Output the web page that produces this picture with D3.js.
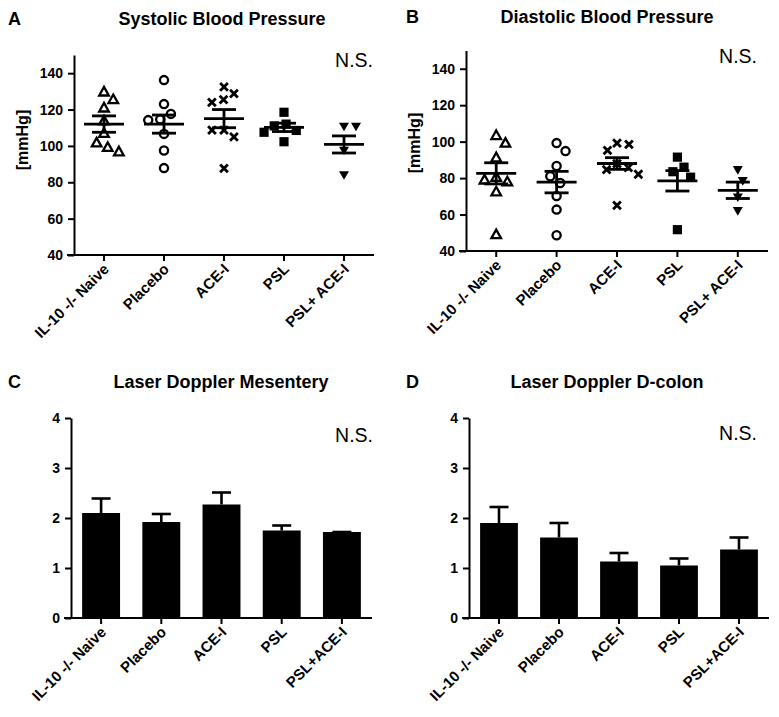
<!DOCTYPE html>
<html><head><meta charset="utf-8">
<script src="https://cdn.jsdelivr.net/npm/d3@7"></script>
<style>body{margin:0;background:#fff}svg{display:block}</style>
</head><body><svg id="c" width="779" height="717"></svg>
<script>
// ---------------- DATA ----------------
const groupsBP = ["IL-10 -/- Naive", "Placebo", "ACE-I", "PSL", "PSL+ ACE-I"];
const groupsLD = ["IL-10 -/- Naive", "Placebo", "ACE-I", "PSL", "PSL+ACE-I"];
const markerTypes = ["triangle", "circle", "cross", "square", "triangleDown"];

const sysValues = [
  [129.7, 125.5, 120.9, 113.8, 106.9, 101.7, 96.8, 99.2],
  [136.2, 123.0, 117.6, 114.6, 114.2, 106.6, 97.5, 87.8],
  [132.5, 128.8, 125.5, 123.9, 108.7, 108.7, 105.0, 87.6],
  [118.5, 112.0, 111.0, 108.5, 107.5, 102.3],
  [110.7, 110.7, 97.5, 84.0]
];
const sysMean = [112.0, 112.0, 115.0, 110.2, 100.8];
const sysSem = [4.5, 5.0, 5.0, 2.3, 4.7];

const diaValues = [
  [103.4, 99.2, 91.2, 80.5, 79.0, 78.0, 72.5, 49.0],
  [99.2, 94.8, 86.6, 81.0, 77.3, 70.2, 62.7, 48.6],
  [99.2, 98.5, 95.2, 87.9, 85.7, 84.6, 82.1, 65.0],
  [91.5, 86.0, 83.5, 80.5, 51.7],
  [84.5, 78.5, 69.5, 62.0]
];
const diaMean = [82.6, 77.8, 88.0, 78.5, 73.3];
const diaSem = [5.8, 5.9, 3.2, 5.6, 4.5];

const mesMean = [2.10, 1.92, 2.27, 1.75, 1.72];
const mesSem = [0.29, 0.16, 0.24, 0.10, 0.0];
const colMean = [1.90, 1.61, 1.13, 1.05, 1.37];
const colSem = [0.32, 0.29, 0.17, 0.14, 0.24];

const bpTicks = [40, 60, 80, 100, 120, 140];
const ldTicks = [0, 1, 2, 3, 4];

// ---------------- RENDER ----------------
const FONT = "Arial, 'Liberation Sans', Helvetica, sans-serif";
const svg = d3.select("#c").style("font-family", FONT);

function markerPath(type) {
  const p = d3.path();
  if (type === "triangle") { p.moveTo(0, -5); p.lineTo(4.8, 3.6); p.lineTo(-4.8, 3.6); p.closePath(); }
  else if (type === "triangleDown") { p.moveTo(-5, -3.8); p.lineTo(5, -3.8); p.lineTo(0, 4.8); p.closePath(); }
  else if (type === "square") { p.rect(-4.6, -4.6, 9.2, 9.2); }
  else if (type === "cross") { p.moveTo(-3.9, -3.9); p.lineTo(3.9, 3.9); p.moveTo(3.9, -3.9); p.lineTo(-3.9, 3.9); }
  else if (type === "circle") { p.arc(0, 0, 4.1, 0, 2 * Math.PI); }
  return p.toString();
}
function markerStyle(sel, type) {
  if (type === "square" || type === "triangleDown") sel.attr("fill", "#000").attr("stroke", "none");
  else sel.attr("fill", "none").attr("stroke", "#000").attr("stroke-width", type === "cross" ? 2.8 : 2.3);
}

// compact beeswarm: each point placed at the free x closest to the centre
function swarm(values, y, D) {
  const order = values.map((v, i) => i).sort((a, b) => values[b] - values[a]);
  const placed = [];
  const off = new Array(values.length).fill(0);
  let side = 1;
  order.forEach(i => {
    const py = y(values[i]);
    const iv = [];
    placed.forEach(p => {
      const dy = Math.abs(p.y - py);
      if (dy < D) { const w = Math.sqrt(D * D - dy * dy); iv.push([p.x - w, p.x + w]); }
    });
    const cands = [0];
    iv.forEach(([a, b]) => { cands.push(a, b); });
    const ok = cands.filter(c => iv.every(([a, b]) => c <= a + 1e-6 || c >= b - 1e-6));
    ok.sort((a, b) => Math.abs(a) - Math.abs(b) || (side > 0 ? b - a : a - b));
    const c = ok[0];
    if (c !== 0) side = -side;
    off[i] = c;
    placed.push({ x: c, y: py });
  });
  return off;
}

function panelFrame(cfg) {
  const g = svg.append("g");
  const y = d3.scaleLinear().domain(cfg.yDomain).range([cfg.yBot, cfg.yTop]);
  const x = d3.scaleBand().domain(cfg.groups).range([cfg.x0, cfg.x1]).paddingInner(cfg.pad || 0).paddingOuter((cfg.pad || 0) / 2);
  // y axis
  const ya = g.append("g").attr("transform", `translate(${cfg.x0},0)`)
    .call(d3.axisLeft(y).tickValues(cfg.ticks).tickFormat(d3.format("d")).tickSize(6).tickSizeOuter(0).tickPadding(5));
  ya.select(".domain").attr("stroke-width", 2);
  ya.selectAll(".tick line").attr("stroke-width", 2);
  ya.selectAll(".tick text").attr("font-size", 14).attr("font-weight", "bold").attr("font-family", FONT).attr("fill", "#000");
  // x axis
  const xa = g.append("g").attr("transform", `translate(0,${cfg.yBot})`)
    .call(d3.axisBottom(x).tickSize(6).tickSizeOuter(0));
  xa.select(".domain").attr("stroke-width", 2).attr("d", `M${cfg.x0 - 7},0H${cfg.x1}`);
  xa.selectAll(".tick line").attr("stroke-width", 2);
  xa.selectAll(".tick text")
    .attr("font-size", 15).attr("font-weight", "bold").attr("font-family", FONT).attr("fill", "#000")
    .attr("text-anchor", "end").attr("dy", null).attr("y", null)
    .attr("transform", "translate(6,15) rotate(-45)");
  // texts
  g.append("text").attr("x", cfg.letterX).attr("y", cfg.titleY).text(cfg.letter)
    .attr("font-size", 18).attr("font-weight", "bold");
  g.append("text").attr("x", cfg.titleX).attr("y", cfg.titleY).attr("text-anchor", "middle").text(cfg.title)
    .attr("font-size", 18).attr("font-weight", "bold");
  g.append("text").attr("x", cfg.nsX).attr("y", cfg.nsY).attr("text-anchor", "end").text("N.S.")
    .attr("font-size", 19.5);
  if (cfg.yLabel) {
    g.append("text").attr("transform", `translate(${cfg.yLabelX},${cfg.yLabelY}) rotate(-90)`)
      .attr("text-anchor", "middle").text(cfg.yLabel).attr("font-size", 16).attr("font-weight", "bold");
  }
  return { g, x, y };
}

function scatterPanel(cfg, values, means, sems) {
  const { g, x, y } = panelFrame(cfg);
  cfg.groups.forEach((grp, i) => {
    const cx = x(grp) + x.bandwidth() / 2;
    const offs = swarm(values[i], y, 12);
    const type = markerTypes[i];
    values[i].forEach((v, j) => {
      g.append("path").attr("d", markerPath(type))
        .attr("transform", `translate(${cx + offs[j]},${y(v)})`)
        .call(markerStyle, type);
    });
    const m = means[i], s = sems[i];
    const lw = 2.8;
    g.append("line").attr("x1", cx - 20).attr("x2", cx + 20).attr("y1", y(m)).attr("y2", y(m)).attr("stroke", "#000").attr("stroke-width", lw);
    g.append("line").attr("x1", cx).attr("x2", cx).attr("y1", y(m - s)).attr("y2", y(m + s)).attr("stroke", "#000").attr("stroke-width", lw);
    [m - s, m + s].forEach(v => g.append("line").attr("x1", cx - 12).attr("x2", cx + 12).attr("y1", y(v)).attr("y2", y(v)).attr("stroke", "#000").attr("stroke-width", lw));
  });
}

function barPanel(cfg, means, sems) {
  const { g, x, y } = panelFrame(cfg);
  cfg.groups.forEach((grp, i) => {
    const cx = x(grp) + x.bandwidth() / 2;
    const m = means[i], s = sems[i];
    g.append("line").attr("x1", cx).attr("x2", cx).attr("y1", y(m)).attr("y2", y(m + s)).attr("stroke", "#000").attr("stroke-width", 2.6);
    g.append("line").attr("x1", cx - 9.5).attr("x2", cx + 9.5).attr("y1", y(m + s)).attr("y2", y(m + s)).attr("stroke", "#000").attr("stroke-width", 2.6);
    g.append("rect").attr("x", x(grp)).attr("width", x.bandwidth()).attr("y", y(m)).attr("height", y(0) - y(m)).attr("fill", "#000");
  });
}

scatterPanel({
  groups: groupsBP, yDomain: [40, 150], ticks: bpTicks, x0: 74, x1: 374, yTop: 55, yBot: 255,
  letter: "A", letterX: 8, title: "Systolic Blood Pressure", titleX: 222, titleY: 25,
  nsX: 373, nsY: 67, yLabel: "[mmHg]", yLabelX: 28, yLabelY: 140
}, sysValues, sysMean, sysSem);

scatterPanel({
  groups: groupsBP, yDomain: [40, 150], ticks: bpTicks, x0: 466, x1: 768, yTop: 50.5, yBot: 251,
  letter: "B", letterX: 406, title: "Diastolic Blood Pressure", titleX: 607, titleY: 23,
  nsX: 757, nsY: 63, yLabel: "[mmHg]", yLabelX: 420, yLabelY: 143
}, diaValues, diaMean, diaSem);

barPanel({
  groups: groupsLD, yDomain: [0, 4], ticks: ldTicks, x0: 71, x1: 372, yTop: 418, yBot: 618, pad: 0.37,
  letter: "C", letterX: 8, title: "Laser Doppler Mesentery", titleX: 221, titleY: 388,
  nsX: 373, nsY: 442
}, mesMean, mesSem);

barPanel({
  groups: groupsLD, yDomain: [0, 4], ticks: ldTicks, x0: 469, x1: 769, yTop: 418, yBot: 618, pad: 0.37,
  letter: "D", letterX: 406, title: "Laser Doppler D-colon", titleX: 607, titleY: 388,
  nsX: 757, nsY: 440
}, colMean, colSem);
</script></body></html>
